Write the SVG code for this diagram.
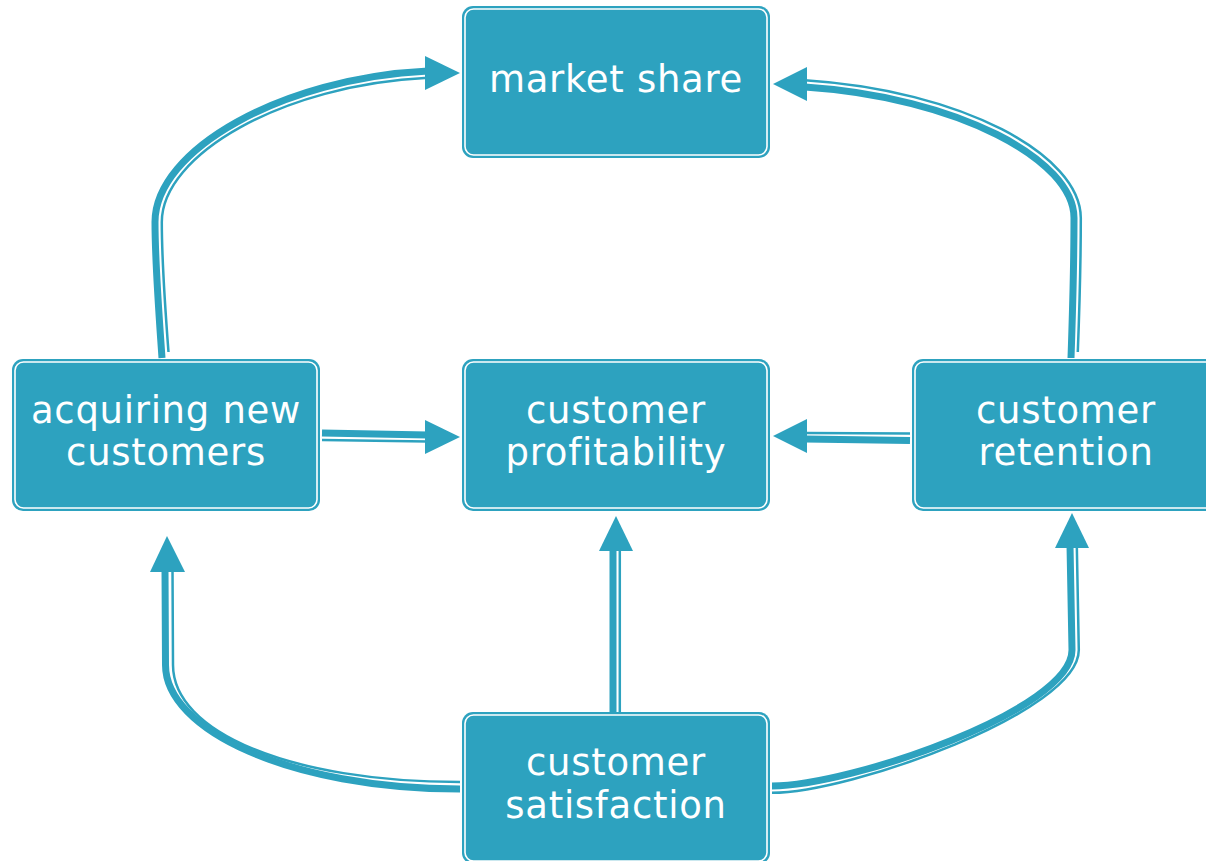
<svg xmlns="http://www.w3.org/2000/svg" width="1206" height="861" viewBox="0 0 1206 861">
<style>
.box{fill:#2da2bf;stroke:none}
.inner{fill:none;stroke:#ffffff;stroke-width:1.6}
.lbl{fill:#ffffff;font-family:"DejaVu Sans",sans-serif;font-size:37px;letter-spacing:0.7px;text-anchor:middle}
.thick{fill:none;stroke:#2da2bf;stroke-width:7}
.thin{fill:none;stroke:#2da2bf;stroke-width:2.5}
.head{fill:#2da2bf}
</style>
<rect width="1206" height="861" fill="#ffffff"/>
<g id="connectors">
  <path class="thick" d="M162,358 C158,300 155,262 155,222 C155,150 282,78 428,71"/>
  <path class="thin" d="M168.5,352 C164.5,300 161.8,262 161.8,222 C161.8,155 282,84.8 428,77.8"/>
  <polygon class="head" points="425,56 460,73 425,90"/>

  <path class="thick" d="M1071,358 C1073,300 1074,260 1074,218 C1074,160 958,97 805,87"/>
  <path class="thin" d="M1077.8,352 C1079.8,300 1080.8,260 1080.8,218 C1080.8,155 962,90.2 805,80.2"/>
  <polygon class="head" points="807,67 773,84 807,101"/>

  <path class="thick" d="M322,433 L428,435"/>
  <path class="thin" d="M322,440 L428,441.5"/>
  <polygon class="head" points="425,420 460,437 425,454"/>

  <path class="thick" d="M910,440.5 L805,439"/>
  <path class="thin" d="M910,433.5 L805,433"/>
  <polygon class="head" points="807,419 773,436 807,453"/>

  <path class="thick" d="M613,715 L613,548"/>
  <path class="thin" d="M619.8,712 L619.8,548"/>
  <polygon class="head" points="599,551 616,516 633,551"/>

  <path class="thick" d="M460,789 C290,789 165.5,730 165.5,665 L165,569"/>
  <path class="thin" d="M460,782 C290,782 173,732 173,665 L172.5,569"/>
  <polygon class="head" points="150,572 167,536 185,572"/>

  <path class="thick" d="M772,786 C850,786 1072,710 1072,650 L1070,545"/>
  <path class="thin" d="M772,792.8 C850,792.8 1078.8,712 1078.8,650 L1076.8,545"/>
  <polygon class="head" points="1055,548 1072,513 1089,548"/>
</g>
<g id="market-share">
  <rect class="box" x="462" y="6" width="308" height="152" rx="11"/>
  <rect class="inner" x="465" y="9" width="302" height="146" rx="8.5"/>
  <text class="lbl" x="616" y="92">market share</text>
</g>
<g id="acquiring-new-customers">
  <rect class="box" x="12" y="359" width="308" height="152" rx="11"/>
  <rect class="inner" x="15" y="362" width="302" height="146" rx="8.5"/>
  <text class="lbl" x="166" y="423">acquiring new</text>
  <text class="lbl" x="166" y="465">customers</text>
</g>
<g id="customer-profitability">
  <rect class="box" x="462" y="359" width="308" height="152" rx="11"/>
  <rect class="inner" x="465" y="362" width="302" height="146" rx="8.5"/>
  <text class="lbl" x="616" y="423">customer</text>
  <text class="lbl" x="616" y="465">profitability</text>
</g>
<g id="customer-retention">
  <rect class="box" x="912" y="359" width="308" height="152" rx="11"/>
  <rect class="inner" x="915" y="362" width="302" height="146" rx="8.5"/>
  <text class="lbl" x="1066" y="423">customer</text>
  <text class="lbl" x="1066" y="465">retention</text>
</g>
<g id="customer-satisfaction">
  <rect class="box" x="462" y="712" width="308" height="152" rx="11"/>
  <rect class="inner" x="465" y="715" width="302" height="146" rx="8.5"/>
  <text class="lbl" x="616" y="775">customer</text>
  <text class="lbl" x="616" y="818">satisfaction</text>
</g>
</svg>
